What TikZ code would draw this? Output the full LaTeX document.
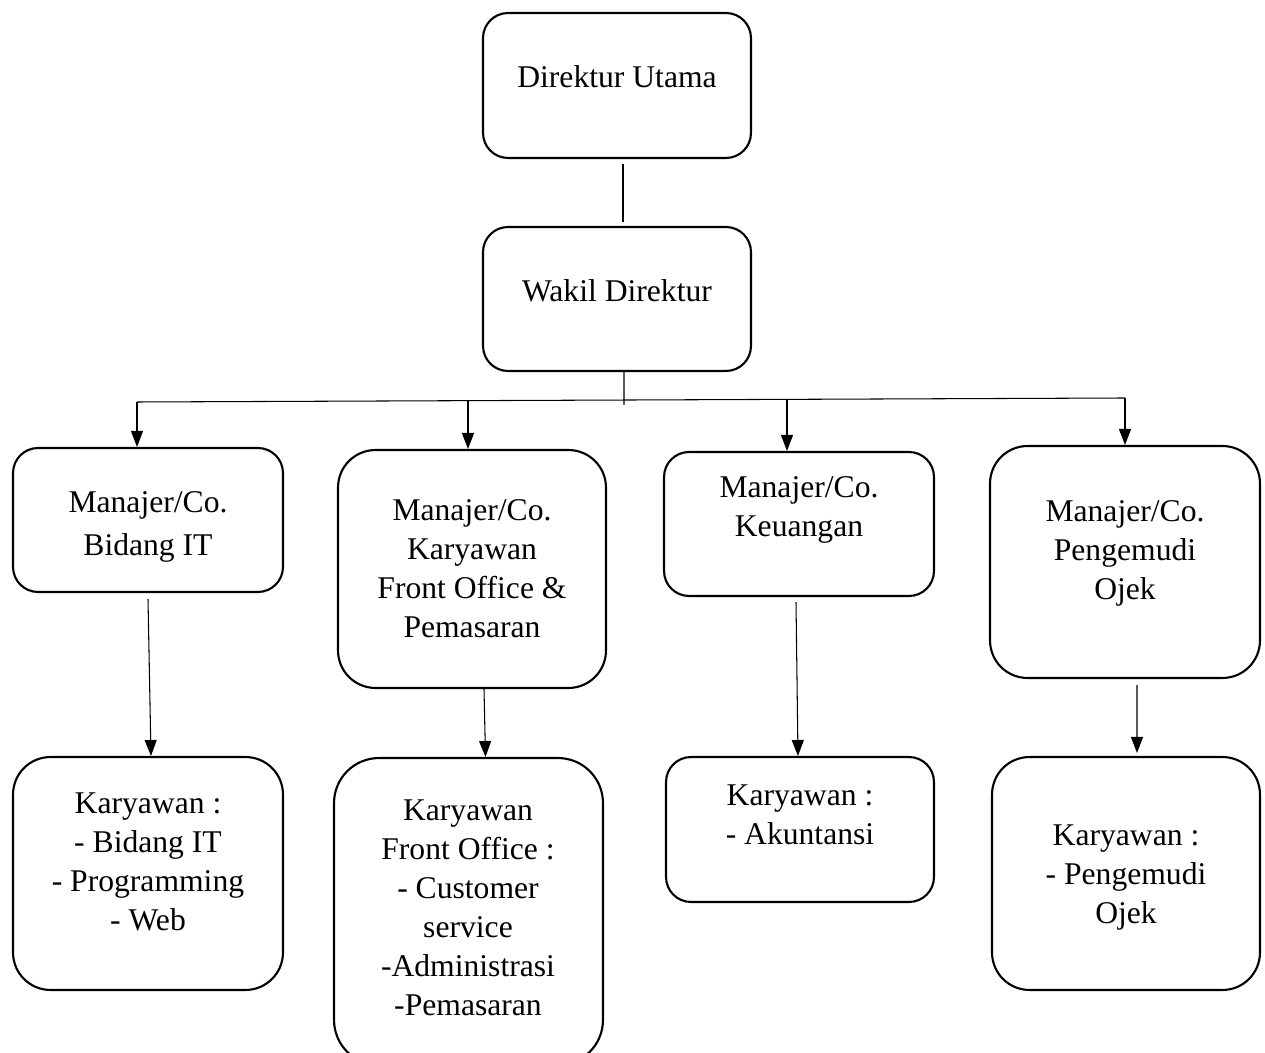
\documentclass[tikz,border=0pt]{standalone}
\usepackage{fontspec}
\setmainfont{Liberation Serif}
\usetikzlibrary{arrows.meta}
\begin{document}
\begin{tikzpicture}[x=0.02cm,y=-0.02cm,
  box/.style={draw, line width=1.2pt, rounded corners=0.5cm, inner sep=0pt},
  tallbox/.style={box, rounded corners=0.75cm},
  txt/.style={align=center, inner sep=0pt, font=\fontsize{18}{22.2}\selectfont},
  conn/.style={line width=0.6pt},
  arr/.style={conn, -{Triangle[length=0.32cm,width=0.24cm]}}]
\useasboundingbox (0,0) rectangle (1265,1053);
\clip (0,0) rectangle (1265,1053);
% boxes
\node[box, minimum width=5.36cm, minimum height=2.9cm] (b1) at (617,85.5) {};
\node[box, minimum width=5.36cm, minimum height=2.88cm] (b2) at (617,299) {};
\node[box, minimum width=5.4cm, minimum height=2.88cm] (b3) at (148,520) {};
\node[tallbox, minimum width=5.36cm, minimum height=4.76cm] (b4) at (472,569) {};
\node[box, minimum width=5.4cm, minimum height=2.88cm] (b5) at (799,524) {};
\node[tallbox, minimum width=5.4cm, minimum height=4.64cm] (b6) at (1125,562) {};
\node[tallbox, minimum width=5.4cm, minimum height=4.66cm] (b7) at (148,873.5) {};
\node[box, rounded corners=0.9cm, minimum width=5.38cm, minimum height=6.14cm] (b8) at (468.5,911.5) {};
\node[box, minimum width=5.36cm, minimum height=2.9cm] (b9) at (800,829.5) {};
\node[tallbox, minimum width=5.36cm, minimum height=4.66cm] (b10) at (1126,873.5) {};
% texts
\node[txt] (t1) at (617,77) {Direktur Utama};
\node[txt] (t2) at (617,291) {Wakil Direktur};
\node[txt, font=\fontsize{18}{24.5}\selectfont] (t3) at (148,527) {Manajer/Co.\\Bidang IT};
\node[txt] (t4) at (472,569) {Manajer/Co.\\Karyawan\\Front Office \&\\Pemasaran};
\node[txt] (t5) at (799,510) {Manajer/Co.\\Keuangan};
\node[txt] (t6) at (1125,553) {Manajer/Co.\\Pengemudi\\Ojek};
\node[txt] (t7) at (148,862) {Karyawan :\\- Bidang IT\\- Programming\\- Web};
\node[txt] (t8) at (468,908) {Karyawan\\Front Office :\\- Customer\\service\\-Administrasi\\-Pemasaran};
\node[txt] (t9) at (800,815) {Karyawan :\\- Akuntansi};
\node[txt] (t10) at (1126,878) {Karyawan :\\- Pengemudi\\Ojek};
% connectors
\draw[conn] ([xshift=0.12cm,yshift=-0.1cm]b1.south) -- ([xshift=0.12cm,yshift=0.08cm]b2.north);
\coordinate (busL) at (137,402);
\coordinate (busR) at (1125,398);
\coordinate (bus2) at (468,401);
\coordinate (bus3) at (787,400);
\coordinate (busM) at (624,405);
\draw[conn] ([xshift=0.14cm]b2.south) -- (busM);
\draw[conn] (busL) -- (busR);
\draw[arr] (busL) -- (busL |- b3.north);
\draw[arr] (bus2) -- (bus2 |- b4.north);
\draw[arr] (bus3) -- (bus3 |- b5.north);
\draw[arr] (busR) -- (busR |- b6.north);
\draw[arr] ([yshift=-0.12cm]b3.south) -- ([xshift=0.06cm]b7.north);
\draw[arr] ([xshift=0.24cm]b4.south) -- ([xshift=0.34cm]b8.north);
\draw[arr] ([xshift=-0.06cm,yshift=-0.1cm]b5.south) -- ([xshift=-0.04cm]b9.north);
\draw[arr] ([xshift=0.24cm,yshift=-0.12cm]b6.south) -- ([xshift=0.22cm,yshift=0.06cm]b10.north);
\end{tikzpicture}
\end{document}
